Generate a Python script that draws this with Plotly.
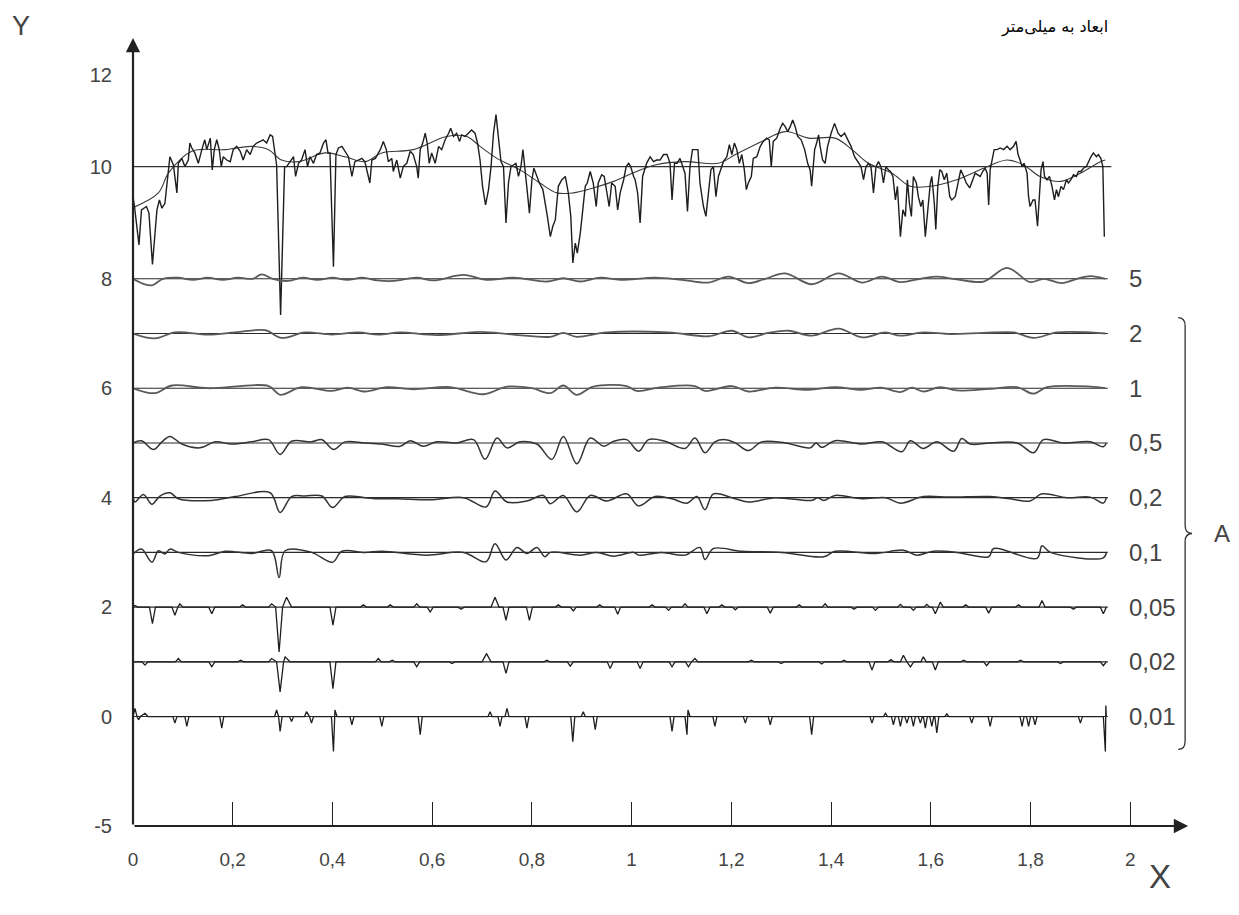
import plotly.graph_objects as go

# ---------------- axis ticks ----------------
x_tickvals = [0, 0.2, 0.4, 0.6, 0.8, 1.0, 1.2, 1.4, 1.6, 1.8, 2.0]
x_ticktext = ['0', '0,2', '0,4', '0,6', '0,8', '1', '1,2', '1,4', '1,6', '1,8', '2']
y_tickvals = [-2, 0, 2, 4, 6, 8, 10.05, 11.73]
y_ticktext = ['-5', '0', '2', '4', '6', '8', '10', '12']

mean_level = 10.05
mean_line_end = 1.962
band_levels = [8, 7, 6, 5, 4, 3, 2, 1, 0]
band_labels = ['5', '2', '1', '0,5', '0,2', '0,1', '0,05', '0,02', '0,01']
band_end = 1.955

# ---------------- measured profile (4 segments) ----------------
prof_x_a = [0.000, 0.003, 0.012, 0.017, 0.027, 0.032, 0.039, 0.048, 0.053, 0.058,
            0.064, 0.071, 0.074, 0.081, 0.084, 0.088, 0.091, 0.098, 0.104, 0.111,
            0.114, 0.118, 0.124, 0.131, 0.138, 0.144, 0.148, 0.155, 0.159, 0.163,
            0.168, 0.173, 0.177, 0.181, 0.188, 0.195, 0.201, 0.208, 0.215, 0.221,
            0.228, 0.235, 0.241, 0.248, 0.255, 0.261, 0.268, 0.275, 0.280, 0.284,
            0.288, 0.296, 0.304, 0.308, 0.315, 0.322, 0.326, 0.332, 0.338, 0.345,
            0.350, 0.355, 0.362, 0.368, 0.375, 0.382, 0.387, 0.391, 0.395, 0.402,
            0.407, 0.412, 0.419, 0.425, 0.432, 0.439, 0.445, 0.452, 0.459, 0.465,
            0.475, 0.479, 0.486, 0.496]
prof_y_a = [9.50, 9.32, 8.62, 9.26, 9.32, 9.20, 8.26, 9.26, 9.44, 9.29,
            9.38, 10.05, 10.23, 10.08, 9.87, 9.57, 10.11, 10.20, 10.05, 10.17,
            10.48, 10.39, 10.30, 10.11, 10.36, 10.54, 10.36, 10.57, 9.99, 10.36,
            10.54, 10.36, 10.05, 10.23, 10.17, 10.14, 10.36, 10.42, 10.33, 10.17,
            10.36, 10.27, 10.42, 10.48, 10.51, 10.54, 10.48, 10.63, 10.60, 10.36,
            10.08, 7.34, 10.05, 10.05, 10.14, 10.23, 9.87, 10.11, 10.17, 10.36,
            10.05, 10.23, 10.11, 10.27, 10.30, 10.48, 10.54, 10.30, 10.30, 8.22,
            10.27, 10.39, 10.42, 10.33, 10.23, 9.87, 10.14, 10.17, 10.20, 10.14,
            9.75, 10.17, 10.20, 10.36]

prof_x_b = [0.502, 0.508, 0.512, 0.519, 0.522, 0.529, 0.536, 0.542, 0.549, 0.556,
            0.562, 0.569, 0.572, 0.576, 0.581, 0.586, 0.590, 0.594, 0.599, 0.606,
            0.613, 0.619, 0.626, 0.633, 0.637, 0.643, 0.649, 0.655, 0.659, 0.666,
            0.673, 0.679, 0.686, 0.691, 0.696, 0.701, 0.707, 0.713, 0.718, 0.723,
            0.728, 0.733, 0.738, 0.743, 0.748, 0.753, 0.758, 0.763, 0.768, 0.773,
            0.778, 0.782, 0.786, 0.791, 0.795, 0.800, 0.804, 0.810, 0.815, 0.822,
            0.826, 0.831, 0.837, 0.842, 0.847, 0.853, 0.860, 0.867, 0.873, 0.878,
            0.882, 0.887, 0.891, 0.897, 0.902, 0.907, 0.911, 0.917, 0.923, 0.929,
            0.933, 0.940, 0.945, 0.950, 0.955, 0.960, 0.967, 0.972, 0.977, 0.984,
            0.989, 0.994, 0.998, 1.004]
prof_y_b = [10.51, 10.36, 10.14, 10.20, 9.96, 10.17, 9.84, 10.05, 10.11, 10.33,
            10.27, 10.05, 9.84, 10.36, 10.48, 10.66, 10.48, 10.11, 10.30, 10.11,
            10.42, 10.36, 10.54, 10.66, 10.75, 10.60, 10.66, 10.51, 10.63, 10.60,
            10.66, 10.72, 10.66, 10.48, 10.17, 9.69, 9.35, 9.63, 10.05, 10.66,
            11.00, 10.60, 10.14, 10.05, 9.02, 9.75, 10.05, 10.08, 10.11, 9.87,
            10.05, 10.36, 10.05, 9.57, 9.20, 9.81, 10.02, 9.87, 9.75, 9.63,
            9.44, 9.14, 8.77, 8.96, 9.08, 9.69, 9.81, 9.87, 9.57, 9.14,
            8.29, 8.65, 8.47, 8.83, 9.26, 9.69, 9.75, 9.96, 9.75, 9.32,
            9.75, 9.90, 9.87, 9.63, 9.32, 9.75, 9.69, 9.26, 9.57, 9.81,
            10.05, 10.11, 10.05, 9.87]

prof_x_c = [1.007, 1.012, 1.017, 1.022, 1.026, 1.030, 1.037, 1.044, 1.050, 1.057,
            1.064, 1.071, 1.077, 1.081, 1.086, 1.091, 1.097, 1.104, 1.107, 1.112,
            1.117, 1.122, 1.127, 1.133, 1.137, 1.144, 1.149, 1.154, 1.159, 1.164,
            1.169, 1.174, 1.180, 1.184, 1.191, 1.196, 1.201, 1.206, 1.211, 1.216,
            1.221, 1.226, 1.230, 1.234, 1.240, 1.244, 1.251, 1.258, 1.264, 1.271,
            1.276, 1.280, 1.284, 1.291, 1.298, 1.303, 1.308, 1.313, 1.318, 1.323,
            1.328, 1.333, 1.340, 1.347, 1.353, 1.358, 1.361, 1.367, 1.371, 1.375,
            1.378, 1.383, 1.388, 1.393, 1.400, 1.407, 1.414, 1.420, 1.427, 1.434,
            1.440, 1.447, 1.454, 1.460, 1.465, 1.470, 1.475, 1.480, 1.485, 1.490,
            1.495, 1.500, 1.505, 1.510, 1.515]
prof_y_c = [9.81, 9.57, 9.02, 9.87, 9.99, 10.11, 10.23, 10.14, 10.17, 10.17,
            10.27, 10.27, 10.11, 9.44, 10.11, 10.11, 10.20, 9.99, 9.93, 9.23,
            10.05, 10.36, 10.36, 10.36, 9.75, 9.32, 9.14, 9.57, 9.99, 10.05,
            9.50, 9.87, 10.05, 10.14, 10.23, 10.45, 10.27, 10.48, 10.36, 10.11,
            10.27, 9.99, 9.63, 9.75, 9.87, 10.20, 10.23, 10.42, 10.51, 10.57,
            10.54, 10.05, 10.51, 10.57, 10.75, 10.84, 10.78, 10.69, 10.78, 10.90,
            10.78, 10.60, 10.54, 10.36, 10.11, 9.99, 9.69, 10.36, 10.48, 10.63,
            10.42, 10.17, 10.11, 10.42, 10.66, 10.84, 10.66, 10.60, 10.66, 10.54,
            10.42, 10.23, 10.14, 10.05, 9.81, 10.05, 10.11, 10.05, 9.57, 10.05,
            10.14, 10.05, 9.75, 10.05, 9.99]

prof_x_d = [1.519, 1.524, 1.529, 1.533, 1.539, 1.544, 1.549, 1.553, 1.557, 1.561,
            1.565, 1.571, 1.575, 1.580, 1.584, 1.589, 1.594, 1.599, 1.602, 1.607,
            1.610, 1.614, 1.618, 1.622, 1.627, 1.632, 1.638, 1.642, 1.649, 1.656,
            1.660, 1.666, 1.671, 1.678, 1.684, 1.689, 1.694, 1.699, 1.704, 1.709,
            1.713, 1.716, 1.719, 1.723, 1.727, 1.733, 1.739, 1.746, 1.753, 1.759,
            1.766, 1.771, 1.775, 1.779, 1.783, 1.787, 1.793, 1.796, 1.799, 1.805,
            1.809, 1.814, 1.818, 1.821, 1.825, 1.828, 1.833, 1.838, 1.843, 1.848,
            1.852, 1.856, 1.861, 1.866, 1.872, 1.876, 1.881, 1.886, 1.892, 1.896,
            1.901, 1.906, 1.912, 1.916, 1.921, 1.926, 1.932, 1.936, 1.941, 1.945,
            1.948]
prof_y_d = [9.96, 9.87, 9.44, 9.69, 8.77, 9.26, 9.14, 9.81, 9.38, 9.14,
            9.87, 9.75, 9.50, 9.32, 9.44, 8.77, 9.26, 9.75, 9.87, 9.38,
            8.90, 9.69, 9.99, 9.96, 9.81, 9.93, 9.50, 9.44, 9.50, 9.81,
            9.99, 9.87, 9.75, 9.66, 9.81, 9.93, 9.90, 9.87, 9.96, 10.02,
            9.93, 9.35, 9.99, 10.17, 10.36, 10.36, 10.39, 10.36, 10.42, 10.36,
            10.42, 10.51, 10.27, 10.17, 10.05, 10.11, 9.93, 9.50, 9.32, 9.44,
            9.44, 8.96, 9.57, 9.99, 10.14, 9.87, 9.81, 9.87, 9.69, 9.44,
            9.63, 9.50, 9.69, 9.63, 9.81, 9.75, 9.81, 9.90, 9.87, 9.96,
            9.96, 10.02, 10.05, 10.14, 10.23, 10.30, 10.23, 10.27, 10.20, 10.05,
            8.77]

# smooth waviness line
smooth_x = [0.0, 0.051, 0.071, 0.118, 0.185, 0.238, 0.272, 0.298, 0.332, 0.385,
            0.425, 0.465, 0.499, 0.562, 0.629, 0.669, 0.696, 0.730, 0.776, 0.816,
            0.850, 0.883, 0.923, 0.964, 1.010, 1.047, 1.107, 1.174, 1.208, 1.261,
            1.308, 1.355, 1.408, 1.442, 1.475, 1.522, 1.559, 1.599, 1.652, 1.706,
            1.753, 1.786, 1.819, 1.860, 1.900, 1.940, 1.950]
smooth_y = [9.30, 9.57, 9.93, 10.33, 10.36, 10.42, 10.36, 10.17, 10.14, 10.30,
            10.23, 10.14, 10.30, 10.36, 10.60, 10.60, 10.42, 10.20, 9.99, 9.75,
            9.57, 9.57, 9.66, 9.78, 9.96, 10.08, 10.14, 10.11, 10.27, 10.51,
            10.69, 10.57, 10.57, 10.36, 10.11, 9.93, 9.69, 9.69, 9.81, 10.02,
            10.17, 10.08, 9.87, 9.78, 9.93, 10.14, 10.17]

# ---------------- band components (offsets from band level) ----------------
d5_x = [0.0, 0.02, 0.038, 0.06, 0.09, 0.12, 0.15, 0.18, 0.21, 0.24,
        0.258, 0.28, 0.31, 0.34, 0.37, 0.40, 0.43, 0.46, 0.49, 0.522,
        0.569, 0.602, 0.663, 0.709, 0.763, 0.830, 0.863, 0.897, 0.937, 0.977,
        1.047, 1.101, 1.154, 1.194, 1.234, 1.268, 1.308, 1.361, 1.415, 1.462,
        1.502, 1.539, 1.579, 1.612, 1.652, 1.706, 1.753, 1.799, 1.826, 1.863,
        1.893, 1.920, 1.950]
d5_y = [0, -0.09, -0.12, 0, 0.02, -0.02, 0.02, -0.02, 0.02, 0,
        0.08, 0, -0.04, 0.02, -0.02, 0.02, -0.02, 0.02, -0.03, -0.04,
        0.02, -0.03, 0.07, -0.02, 0.02, -0.05, 0.01, -0.05, 0.02, -0.02,
        0.02, -0.02, -0.07, 0.04, -0.08, 0, 0.10, -0.10, 0.10, -0.07,
        0.04, -0.06, 0, 0.04, -0.01, -0.05, 0.20, -0.06, 0, -0.08,
        0, 0.05, 0]

d2_x = [0.0, 0.044, 0.084, 0.151, 0.205, 0.265, 0.298, 0.345, 0.399, 0.452,
        0.492, 0.536, 0.609, 0.696, 0.763, 0.837, 0.863, 0.890, 0.950, 1.074,
        1.154, 1.201, 1.234, 1.274, 1.315, 1.361, 1.415, 1.462, 1.509, 1.539,
        1.585, 1.639, 1.706, 1.766, 1.806, 1.853, 1.920, 1.950]
d2_y = [0, -0.09, 0.02, -0.02, 0.02, 0.06, -0.08, 0.02, -0.02, 0.02,
        -0.02, 0.02, -0.03, 0.03, -0.02, -0.06, 0.01, -0.06, 0.02, 0.02,
        -0.05, 0.05, -0.07, 0.01, 0.05, -0.04, 0.09, -0.07, 0.02, -0.04,
        0.02, -0.01, 0.01, 0.02, -0.08, 0.02, 0.02, 0]

d1_x = [0.0, 0.044, 0.078, 0.151, 0.272, 0.295, 0.338, 0.399, 0.430, 0.465,
        0.509, 0.562, 0.636, 0.703, 0.750, 0.800, 0.837, 0.863, 0.890, 0.923,
        0.990, 1.010, 1.060, 1.127, 1.147, 1.201, 1.234, 1.288, 1.355, 1.408,
        1.462, 1.500, 1.539, 1.562, 1.585, 1.619, 1.652, 1.719, 1.773, 1.806,
        1.833, 1.920, 1.950]
d1_y = [0, -0.09, 0.05, 0, 0.04, -0.12, 0.02, -0.05, 0.01, -0.06,
        0.02, -0.02, 0.02, -0.11, 0.03, 0, -0.09, 0.05, -0.12, 0.03,
        0.04, -0.05, 0.02, 0.04, -0.05, 0.04, -0.06, 0.01, -0.03, 0.02,
        -0.03, 0.01, -0.07, 0.01, -0.06, 0.02, -0.04, -0.01, 0.02, -0.10,
        0.02, 0.03, 0]

d05_x = [0.0, 0.017, 0.041, 0.058, 0.074, 0.098, 0.134, 0.165, 0.198, 0.238,
         0.272, 0.295, 0.318, 0.358, 0.379, 0.402, 0.425, 0.465, 0.499, 0.536,
         0.556, 0.582, 0.609, 0.649, 0.683, 0.706, 0.730, 0.750, 0.776, 0.810,
         0.840, 0.863, 0.890, 0.917, 0.944, 0.964, 0.990, 1.014, 1.034, 1.067,
         1.107, 1.127, 1.147, 1.167, 1.188, 1.208, 1.234, 1.261, 1.308, 1.358,
         1.370, 1.381, 1.408, 1.462, 1.502, 1.542, 1.559, 1.585, 1.612, 1.646,
         1.662, 1.679, 1.719, 1.773, 1.806, 1.826, 1.866, 1.920, 1.946, 1.952]
d05_y = [0, 0.04, -0.12, 0.02, 0.12, -0.02, -0.09, 0.02, -0.02, 0.02,
         0.06, -0.21, 0.03, 0.02, 0.06, -0.12, 0.02, 0, -0.02, -0.06,
         0.04, -0.06, 0.02, 0, 0.06, -0.30, 0.09, -0.09, 0.02, -0.02,
         -0.30, 0.12, -0.38, 0.09, -0.06, 0.03, 0.06, -0.15, 0.06, 0.03,
         -0.10, 0.09, -0.18, 0.02, 0.06, 0, -0.14, 0.02, 0, -0.09,
         0, -0.08, 0.04, -0.02, 0.02, -0.16, 0.04, -0.10, 0.02, -0.15,
         0.08, -0.02, 0, 0, -0.18, 0.06, 0, 0.02, -0.07, 0]

d02_x = [0.0, 0.004, 0.021, 0.038, 0.054, 0.074, 0.091, 0.158, 0.205, 0.275,
         0.295, 0.318, 0.345, 0.379, 0.400, 0.425, 0.465, 0.492, 0.529, 0.596,
         0.663, 0.708, 0.726, 0.750, 0.790, 0.823, 0.837, 0.863, 0.890, 0.917,
         0.950, 0.990, 1.014, 1.047, 1.081, 1.111, 1.131, 1.147, 1.164, 1.201,
         1.234, 1.288, 1.361, 1.373, 1.385, 1.408, 1.462, 1.509, 1.539, 1.585,
         1.639, 1.719, 1.759, 1.799, 1.823, 1.873, 1.920, 1.946, 1.952]
d02_y = [0, -0.08, 0.06, -0.12, 0.03, 0.09, -0.02, -0.05, 0.02, 0.09,
         -0.27, 0.02, 0.03, 0.03, -0.18, 0.02, 0, -0.02, -0.02, -0.04,
         0, -0.17, 0.12, -0.08, -0.06, 0.04, -0.11, 0.04, -0.26, 0.04,
         -0.06, 0.07, -0.15, 0.02, -0.02, -0.10, 0.02, -0.22, 0.07, 0,
         -0.08, 0, -0.05, 0, -0.05, 0.04, -0.02, 0, -0.10, 0.02,
         0.01, 0.02, -0.02, -0.06, 0.07, 0, 0.01, -0.10, 0]

d01_x = [0.0, 0.017, 0.038, 0.051, 0.064, 0.074, 0.091, 0.151, 0.185, 0.238,
         0.278, 0.293, 0.305, 0.358, 0.400, 0.419, 0.465, 0.499, 0.589, 0.663,
         0.708, 0.726, 0.748, 0.770, 0.790, 0.810, 0.826, 0.837, 0.897, 0.930,
         0.964, 1.004, 1.014, 1.060, 1.107, 1.137, 1.147, 1.164, 1.221, 1.301,
         1.385, 1.408, 1.489, 1.545, 1.572, 1.605, 1.652, 1.716, 1.726, 1.813,
         1.823, 1.840, 1.946, 1.952]
d01_y = [-0.03, 0.06, -0.18, 0.03, -0.03, 0.06, 0, -0.06, 0.02, -0.02,
         0.03, -0.46, 0.03, 0, -0.18, 0.02, 0, 0.02, -0.05, 0,
         -0.17, 0.16, -0.14, 0.09, -0.02, 0.09, -0.08, 0, -0.05, 0,
         -0.07, 0, -0.05, 0, -0.05, 0.09, -0.13, 0.07, 0.02, 0,
         -0.08, 0.02, -0.02, 0.04, -0.05, 0.02, 0, -0.08, 0.07, -0.11,
         0.12, 0, -0.10, 0]

d005_x = [0.0, 0.004, 0.010, 0.033, 0.039, 0.045, 0.078, 0.084, 0.090, 0.094,
          0.100, 0.152, 0.158, 0.164, 0.214, 0.220, 0.226, 0.272, 0.278, 0.286,
          0.293, 0.300, 0.308, 0.318, 0.395, 0.401, 0.407, 0.456, 0.462, 0.468,
          0.510, 0.516, 0.522, 0.563, 0.569, 0.575, 0.590, 0.596, 0.602, 0.652,
          0.658, 0.664, 0.718, 0.726, 0.734, 0.742, 0.748, 0.754, 0.789, 0.795,
          0.801, 0.847, 0.853, 0.859, 0.877, 0.883, 0.889, 0.930, 0.936, 0.942,
          0.966, 0.972, 0.978, 1.035, 1.041, 1.047, 1.068, 1.074, 1.080, 1.101,
          1.107, 1.113, 1.145, 1.151, 1.157, 1.175, 1.181, 1.187, 1.202, 1.208,
          1.214, 1.272, 1.278, 1.284, 1.330, 1.336, 1.342, 1.382, 1.388, 1.394,
          1.440, 1.446, 1.452, 1.483, 1.489, 1.495, 1.533, 1.539, 1.545, 1.559,
          1.565, 1.571, 1.586, 1.592, 1.598, 1.603, 1.609, 1.615, 1.619, 1.625,
          1.664, 1.670, 1.676, 1.710, 1.716, 1.722, 1.770, 1.776, 1.782, 1.817,
          1.823, 1.829, 1.880, 1.886, 1.892, 1.940, 1.946, 1.952]
d005_y = [0, 0.03, 0, 0, -0.30, 0, 0, -0.15, 0, 0.06,
          0, 0, -0.12, 0, 0, 0.04, 0, 0, 0.06, 0,
          -0.82, 0, 0.18, 0, 0, -0.33, 0, 0, 0.04, 0,
          0, 0.04, 0, 0, 0.06, 0, 0, -0.09, 0, 0,
          -0.04, 0, 0, 0.18, 0, 0, -0.24, 0, 0, -0.24,
          0, 0, 0.04, 0, 0, -0.07, 0, 0, 0.04, 0,
          0, -0.13, 0, 0, 0.04, 0, 0, -0.06, 0, 0,
          0.06, 0, 0, -0.12, 0, 0, 0.04, 0, 0, -0.05,
          0, 0, -0.11, 0, 0, 0.04, 0, 0, 0.06, 0,
          0, -0.04, 0, 0, -0.06, 0, 0, 0.05, 0, 0,
          -0.06, 0, 0, 0.05, 0, 0, -0.12, 0, 0.09, 0,
          0, 0.04, 0, 0, -0.11, 0, 0, 0.04, 0, 0,
          0.12, 0, 0, -0.04, 0, 0, -0.12, 0]

d002_x = [0.0, 0.018, 0.024, 0.030, 0.085, 0.091, 0.097, 0.152, 0.158, 0.164,
          0.210, 0.216, 0.222, 0.272, 0.278, 0.288, 0.295, 0.302, 0.305, 0.315,
          0.395, 0.401, 0.407, 0.486, 0.492, 0.498, 0.514, 0.520, 0.526, 0.563,
          0.569, 0.575, 0.634, 0.640, 0.646, 0.700, 0.709, 0.718, 0.742, 0.748,
          0.754, 0.824, 0.830, 0.836, 0.871, 0.877, 0.883, 0.951, 0.957, 0.963,
          1.011, 1.017, 1.023, 1.075, 1.081, 1.087, 1.108, 1.114, 1.120, 1.127,
          1.133, 1.234, 1.240, 1.246, 1.294, 1.300, 1.306, 1.375, 1.381, 1.387,
          1.420, 1.426, 1.432, 1.476, 1.482, 1.488, 1.514, 1.520, 1.526, 1.539,
          1.545, 1.552, 1.559, 1.566, 1.580, 1.585, 1.591, 1.603, 1.609, 1.615,
          1.660, 1.666, 1.672, 1.706, 1.712, 1.718, 1.774, 1.780, 1.786, 1.854,
          1.860, 1.866, 1.940, 1.946, 1.952]
d002_y = [0, 0, -0.06, 0, 0, 0.06, 0, 0, -0.09, 0,
          0, 0.03, 0, 0, 0.06, 0, -0.55, 0, 0.09, 0,
          0, -0.49, 0, 0, 0.06, 0, 0, 0.03, 0, 0,
          -0.09, 0, 0, -0.03, 0, 0, 0.15, 0, 0, -0.21,
          0, 0, 0.03, 0, 0, -0.08, 0, 0, -0.12, 0,
          0, -0.12, 0, 0, -0.09, 0, 0, -0.09, 0, 0.06,
          0, 0, 0.03, 0, 0, -0.03, 0, 0, -0.04, 0,
          0, 0.03, 0, 0, -0.15, 0, 0, 0.04, 0, 0,
          0.12, 0, -0.09, 0, 0, 0.09, 0, 0, -0.15, 0,
          0, 0.03, 0, 0, -0.07, 0, 0, 0.03, 0, 0,
          -0.03, 0, 0, -0.07, 0]

d001_x = [0.0, 0.004, 0.008, 0.011, 0.015, 0.024, 0.030,
          0.080, 0.084, 0.088, 0.104, 0.108, 0.112, 0.174, 0.178, 0.182,
          0.284, 0.288, 0.292, 0.295, 0.299, 0.314, 0.318, 0.322,
          0.344, 0.348, 0.354, 0.358, 0.362, 0.398, 0.402, 0.405, 0.409,
          0.435, 0.439, 0.443, 0.495, 0.499, 0.503, 0.572, 0.576, 0.580,
          0.712, 0.716, 0.720, 0.732, 0.736, 0.740, 0.746, 0.750, 0.754,
          0.786, 0.790, 0.794, 0.878, 0.882, 0.886, 0.899, 0.903, 0.907,
          0.923, 0.927, 0.931, 1.077, 1.081, 1.085, 1.107, 1.111, 1.113, 1.117,
          1.163, 1.167, 1.171, 1.224, 1.228, 1.232, 1.274, 1.278, 1.282,
          1.357, 1.361, 1.365, 1.478, 1.482, 1.486, 1.505, 1.509, 1.513,
          1.521, 1.525, 1.529, 1.535, 1.539, 1.543, 1.548, 1.552, 1.556,
          1.561, 1.565, 1.569, 1.575, 1.579, 1.583, 1.585, 1.589, 1.593,
          1.598, 1.602, 1.606, 1.608, 1.612, 1.616, 1.628, 1.632, 1.636,
          1.678, 1.682, 1.686, 1.715, 1.719, 1.723, 1.779, 1.783, 1.787,
          1.792, 1.796, 1.800, 1.805, 1.809, 1.813, 1.896, 1.900, 1.904,
          1.946, 1.950, 1.951, 1.952]
d001_y = [0, 0.15, 0, -0.06, 0, 0.06, 0,
          0, -0.12, 0, 0, -0.18, 0, 0, -0.21, 0,
          0, 0.12, 0, -0.27, 0, 0, -0.09, 0,
          0, 0.09, 0, -0.12, 0, 0, -0.64, 0.12, 0,
          0, -0.15, 0, 0, -0.18, 0, 0, -0.33, 0,
          0, 0.09, 0, 0, -0.18, 0, 0, 0.15, 0,
          0, -0.21, 0, 0, -0.46, 0, 0, 0.09, 0,
          0, -0.24, 0, 0, -0.27, 0, 0, -0.33, 0.12, 0,
          0, -0.18, 0, 0, -0.12, 0, 0, -0.15, 0,
          0, -0.33, 0, 0, -0.12, 0, 0, 0.06, 0,
          0, -0.15, 0, 0, -0.18, 0, 0, -0.12, 0,
          0, -0.18, 0, 0, -0.12, 0, 0, -0.21, 0,
          0, -0.18, 0, 0, -0.30, 0, 0, 0.05, 0,
          0, -0.12, 0, 0, -0.18, 0, 0, -0.18, 0,
          0, -0.18, 0, 0, -0.15, 0, 0, -0.12, 0,
          0, -0.64, 0.20, 0]

band_x = [d5_x, d2_x, d1_x, d05_x, d02_x, d01_x, d005_x, d002_x, d001_x]
band_y = [d5_y, d2_y, d1_y, d05_y, d02_y, d01_y, d005_y, d002_y, d001_y]
band_kind = ['coarse', 'coarse', 'coarse', 'wave', 'wave', 'wave', 'sharp', 'sharp', 'sharp']

for bx, by in zip(band_x, band_y):
    assert len(bx) == len(by), (len(bx), len(by))
for px, py in [(prof_x_a, prof_y_a), (prof_x_b, prof_y_b), (prof_x_c, prof_y_c),
               (prof_x_d, prof_y_d), (smooth_x, smooth_y)]:
    assert len(px) == len(py), (len(px), len(py))

prof_x = prof_x_a + prof_x_b + prof_x_c + prof_x_d
prof_y = prof_y_a + prof_y_b + prof_y_c + prof_y_d

INK = '#1e1e1e'
LBL = '#444444'
SANS = 'Liberation Sans, Arial, sans-serif'
band_style = {
    'coarse': dict(shape='spline', color='#5a5a5a', width=1.8),
    'wave': dict(shape='spline', color='#333333', width=1.5),
    'sharp': dict(shape='linear', color=INK, width=1.3),
}

fig = go.Figure()

# mean line of the profile
fig.add_trace(go.Scatter(x=[0, mean_line_end], y=[mean_level, mean_level], mode='lines',
                         line=dict(color='#333333', width=1.1), hoverinfo='skip'))
# smooth waviness
fig.add_trace(go.Scatter(x=smooth_x, y=smooth_y, mode='lines', line_shape='spline',
                         line=dict(color='#3a3a3a', width=1.1), hoverinfo='skip'))
# raw profile
fig.add_trace(go.Scatter(x=prof_x, y=prof_y, mode='lines',
                         line=dict(color=INK, width=1.4), hoverinfo='skip'))

for lvl, bx, by, kind in zip(band_levels, band_x, band_y, band_kind):
    st = band_style[kind]
    fig.add_trace(go.Scatter(x=[0, band_end], y=[lvl, lvl], mode='lines',
                             line=dict(color='#2a2a2a', width=1.1), hoverinfo='skip'))
    fig.add_trace(go.Scatter(x=bx, y=[lvl + v for v in by], mode='lines',
                             line_shape=st['shape'],
                             line=dict(color=st['color'], width=st['width']),
                             hoverinfo='skip'))

# band labels at the right
for lvl, lab in zip(band_levels, band_labels):
    fig.add_annotation(x=1.994, y=lvl, xref='x', yref='y', text=lab, showarrow=False,
                       xanchor='left', yanchor='middle',
                       font=dict(family=SANS, size=24, color=LBL))

# brace grouping the A bands
b_top = band_levels[1] + 0.29
b_bot = band_levels[-1] - 0.60
b_mid = (b_top + b_bot) / 2
bx0, bx1, bx2 = 2.096, 2.110, 2.124
brace = (f"M {bx0},{b_top} Q {bx1},{b_top} {bx1},{b_top-0.15} "
         f"L {bx1},{b_mid+0.15} Q {bx1},{b_mid} {bx2},{b_mid} "
         f"Q {bx1},{b_mid} {bx1},{b_mid-0.15} "
         f"L {bx1},{b_bot+0.15} Q {bx1},{b_bot} {bx0},{b_bot}")
fig.add_shape(type='path', path=brace, xref='x', yref='y',
              line=dict(color='#333333', width=1.3))
fig.add_annotation(x=2.184, y=b_mid, xref='x', yref='y', text='A', showarrow=False,
                   xanchor='center', yanchor='middle',
                   font=dict(family=SANS, size=24, color=LBL))

# axes drawn as arrows
fig.add_annotation(x=0, y=12.4, ax=0, ay=-2, xref='x', yref='y', axref='x', ayref='y',
                   text='', showarrow=True, arrowhead=2, arrowsize=1.3, arrowwidth=2.2,
                   arrowcolor='#222222')
fig.add_annotation(x=2.116, y=-2, ax=0, ay=-2, xref='x', yref='y', axref='x', ayref='y',
                   text='', showarrow=True, arrowhead=2, arrowsize=1.3, arrowwidth=2.2,
                   arrowcolor='#222222')

# axis titles and units
fig.add_annotation(x=-0.102, y=1.0152, xref='paper', yref='paper', text='Y', showarrow=False,
                   xanchor='center', yanchor='middle',
                   font=dict(family=SANS, size=27, color=LBL))
fig.add_annotation(x=0.936, y=-0.0635, xref='paper', yref='paper', text='X', showarrow=False,
                   xanchor='center', yanchor='middle',
                   font=dict(family=SANS, size=33, color=LBL))
fig.add_annotation(x=0.8906, y=1.014, xref='paper', yref='paper',
                   text='ابعاد به میلی\u200cمتر', showarrow=False, xanchor='right', yanchor='middle',
                   font=dict(family='DejaVu Sans, Noto Sans, sans-serif', size=16, color='#000000'))

fig.update_layout(
    width=1231, height=907,
    margin=dict(l=125, r=9, t=30, b=89, autoexpand=False),
    paper_bgcolor='white', plot_bgcolor='white',
    showlegend=False, hovermode=False,
    xaxis=dict(range=[0, 2.2], showgrid=False, zeroline=False, showline=False, automargin=False,
               tickvals=x_tickvals, ticktext=x_ticktext, ticks='inside', ticklen=24,
               tickwidth=1.3, tickcolor='#222222', ticklabelstandoff=20,
               tickfont=dict(family=SANS, size=19, color=LBL)),
    yaxis=dict(range=[-2, 12.4], showgrid=False, zeroline=False, showline=False, automargin=False,
               tickvals=y_tickvals, ticktext=y_ticktext, ticks='', ticklabelstandoff=20,
               tickfont=dict(family=SANS, size=20, color=LBL)),
)

fig.write_html('out.html', config={'displayModeBar': False})
